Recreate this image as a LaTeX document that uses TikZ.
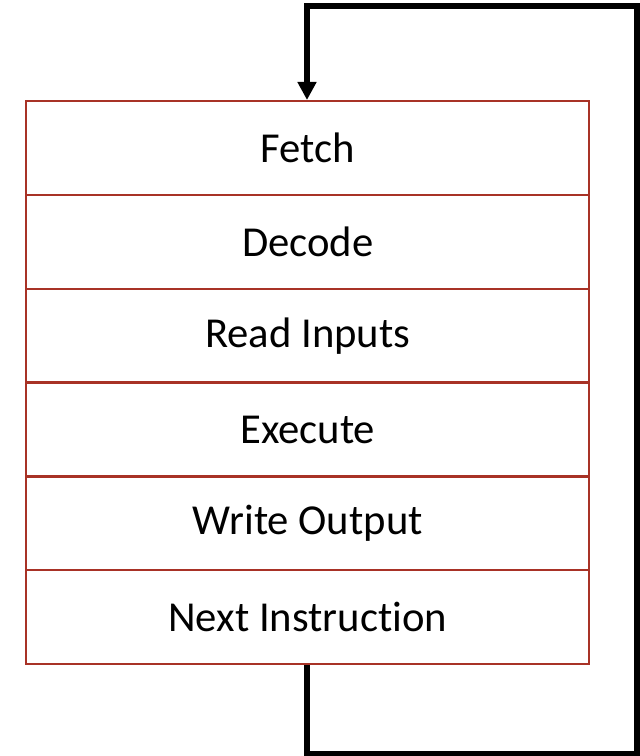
\documentclass[tikz,border=0pt]{standalone}
\usepackage{fontspec}
\setmainfont[Ligatures={NoCommon}]{Carlito}
\usetikzlibrary{arrows.meta}
\definecolor{stageedge}{RGB}{168,50,38}
\tikzset{
  stage/.style={draw=stageedge, line width=1.8pt, fill=white,
    minimum width=563*0.75pt, minimum height=93.8*0.75pt,
    inner sep=0pt, font=\fontsize{32}{38}\selectfont, anchor=north west},
  loopline/.style={line width=3.8pt, line join=miter},
}
\begin{document}
\begin{tikzpicture}[x=0.75pt, y=-0.75pt]
  \useasboundingbox (0,0) rectangle (639,756);
  % pipeline stages, stacked top to bottom
  \node[stage] (fetch)   at (25,100)   {Fetch};
  \node[stage] (decode)  at (25,193.8) {Decode};
  \node[stage] (read)    at (25,287.6) {Read Inputs};
  \node[stage] (exec)    at (25,381.4) {Execute};
  \node[stage] (write)   at (25,475.2) {Write Output};
  \node[stage] (next)    at (25,569)   {Next Instruction};
  % loop back from the last stage to the first
  \coordinate (c1) at (307,754);
  \coordinate (c2) at (637,754);
  \coordinate (c3) at (637,6);
  \coordinate (c4) at (307,6);
  \draw[loopline, -{Triangle[width=13.5pt,length=13.5pt]}]
    (next.south -| c1) -- (c1) -- (c2) -- (c3) -- (c4) -- (fetch.north -| c4);
\end{tikzpicture}
\end{document}
